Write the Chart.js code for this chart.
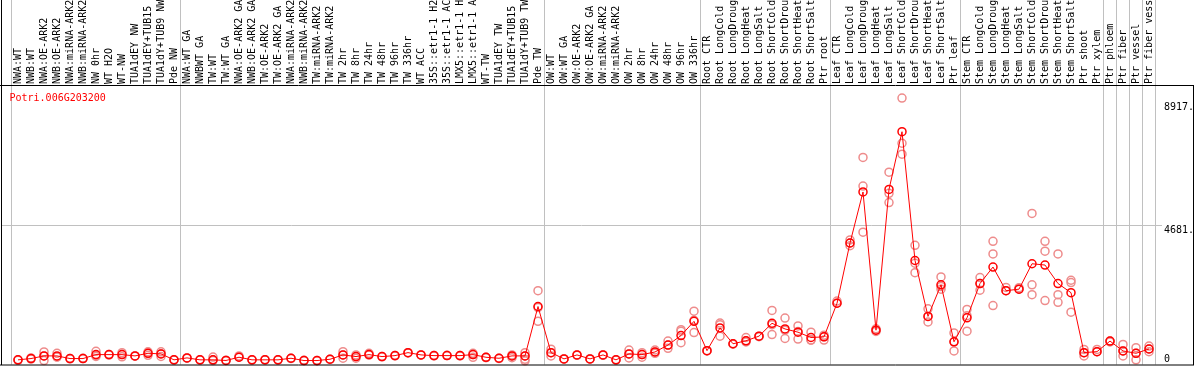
<!DOCTYPE html>
<html>
<head>
<meta charset="utf-8">
<title>Potri.006G203200</title>
<script src="https://cdn.jsdelivr.net/npm/chart.js@4.4.0/dist/chart.umd.min.js"></script>
<style>
    html, body { margin: 0; padding: 0; background: #fff; }
    #chart-expresion { display: block; }
</style>
</head>
<body>
<canvas id="chart-expresion" width="1194" height="370"></canvas>
<script>
const geneName = 'Potri.006G203200';

const labels = [
    'NWA:WT', 'NWB:WT', 'NWA:OE-ARK2', 'NWB:OE-ARK2', 'NWA:miRNA-ARK2', 'NWB:miRNA-ARK2',
    'NW 0hr', 'WT H2O', 'WT-NW', 'TUA1dEY NW', 'TUA1dEY+TUB15 NW', 'TUA1dY+TUB9 NW', 'Pde NW',
    'NWA:WT GA', 'NWBWT GA', 'TW:WT', 'TW:WT GA', 'NWA:OE-ARK2 GA', 'NWB:OE-ARK2 GA',
    'TW:OE-ARK2', 'TW:OE-ARK2 GA', 'NWA:miRNA-ARK2 GA', 'NWB:miRNA-ARK2 GA', 'TW:miRNA-ARK2',
    'TW:miRNA-ARK2 GA', 'TW 2hr', 'TW 8hr', 'TW 24hr', 'TW 48hr', 'TW 96hr', 'TW 336hr', 'WT ACC',
    '35S::etr1-1 H2O', '35S::etr1-1 ACC', 'LMX5::etr1-1 H2O', 'LMX5::etr1-1 ACC', 'WT-TW',
    'TUA1dEY TW', 'TUA1dEY+TUB15 TW', 'TUA1dY+TUB9 TW', 'Pde TW',
    'OW:WT', 'OW:WT GA', 'OW:OE-ARK2', 'OW:OE-ARK2 GA', 'OW:miRNA-ARK2', 'OW:miRNA-ARK2 GA',
    'OW 2hr', 'OW 8hr', 'OW 24hr', 'OW 48hr', 'OW 96hr', 'OW 336hr',
    'Root CTR', 'Root LongCold', 'Root LongDrought', 'Root LongHeat', 'Root LongSalt',
    'Root ShortCold', 'Root ShortDrought', 'Root ShortHeat', 'Root ShortSalt', 'Ptr root',
    'Leaf CTR', 'Leaf LongCold', 'Leaf LongDrought', 'Leaf LongHeat', 'Leaf LongSalt',
    'Leaf ShortCold', 'Leaf ShortDrought', 'Leaf ShortHeat', 'Leaf ShortSalt', 'Ptr leaf',
    'Stem CTR', 'Stem LongCold', 'Stem LongDrought', 'Stem LongHeat', 'Stem LongSalt',
    'Stem ShortCold', 'Stem ShortDrought', 'Stem ShortHeat', 'Stem ShortSalt', 'Ptr shoot',
    'Ptr xylem', 'Ptr phloem', 'Ptr fiber', 'Ptr vessel', 'Ptr fiber vessel'
];

// media de las replicas
const dataMedia = [
    85, 129, 220, 220, 129, 129, 264, 264, 264, 220, 310, 288, 85,
    152, 85, 85, 64, 174, 85, 85, 85, 139, 61, 61, 105, 254, 197, 264, 197, 230, 332, 254,
    230, 230, 230, 264, 173, 139, 220, 220, 1915,
    332, 118, 254, 118, 254, 85, 288, 264, 355, 593, 919, 1406,
    400, 1179, 637, 739, 898, 1339, 1145, 1034, 851, 874,
    2027, 4094, 5846, 1101, 5934, 7913, 3494, 1576, 2660, 705,
    1528, 2704, 3270, 2457, 2511, 3382, 3338, 2704, 2389, 332,
    366, 729, 390, 310, 457
];

// replicas individuales
const dataReplicas = [
    [85, 70], [150, 110], [356, 61, 220], [310, 180, 190], [129, 120], [129, 140],
    [380, 200, 230], [264, 250], [330, 190, 264], [220, 210], [360, 240, 310], [360, 200, 290], [85, 80],
    [152, 140], [85, 80], [180, 61, 85], [64, 70], [220, 174], [85, 80], [85, 90], [85, 80],
    [139, 130], [61, 70], [61, 55], [105, 100], [366, 139, 254], [254, 139, 197], [310, 264, 250],
    [197, 190], [230, 220], [332, 320], [254, 250], [230, 220], [230, 240], [230, 220],
    [310, 170, 264], [173, 160], [139, 130], [254, 160, 220], [332, 105, 50, 220], [2457, 1406, 1880],
    [450, 220, 332], [118, 110], [254, 240], [118, 110], [254, 240], [85, 80], [423, 152, 288],
    [330, 174, 264], [423, 310, 355], [728, 593, 480], [1120, 1067, 671], [1755, 1020, 1440],
    [400, 390], [1349, 898, 1290], [637, 620], [851, 739, 700], [898, 880], [1779, 952, 1290],
    [1518, 817, 1100], [1247, 796, 1060], [1034, 762, 762], [932, 762, 874],
    [2100, 2027], [4200, 4000, 4094], [7032, 6049, 4467], [1150, 1060, 1101], [6524, 5483, 5800],
    [9066, 7517, 7144], [4016, 3077, 3400], [1834, 1383, 1576], [2931, 2511, 2600], [1010, 390, 705],
    [1813, 1067, 1600], [2908, 2477, 2704], [4152, 3721, 1949], [2570, 2457], [2560, 2511],
    [5111, 2660, 2321], [4152, 3813, 2118], [3721, 2321, 2060], [2816, 2738, 1722], [444, 220, 332],
    [444, 366], [729, 700], [613, 220, 390], [502, 85, 310], [559, 366, 457]
];

const yTicks = [0, 4681, 8917];
const yTickLabels = ['0', '4681.', '8917.'];
const groupStarts = [0, 13, 41, 53, 63, 73, 84, 85, 86, 87, 88];

const puntosReplicas = [];
dataReplicas.forEach((reps, i) => {
    reps.forEach(v => puntosReplicas.push({ x: labels[i], y: v }));
});

const fuente = 'DejaVu Sans Mono';

const decoracion = {
    id: 'decoracion',
    beforeDatasetsDraw(chart) {
        const ctx = chart.ctx;
        const x = chart.scales.x;
        const y = chart.scales.y;
        const paso = x.getPixelForValue(1) - x.getPixelForValue(0);
        const x0 = x.getPixelForValue(0);
        ctx.save();
        ctx.strokeStyle = '#c0c0c0';
        ctx.lineWidth = 1;
        ctx.beginPath();
        groupStarts.forEach(i => {
            const px = Math.floor(x0 + (i - 0.5) * paso) + 0.5;
            ctx.moveTo(px, 0);
            ctx.lineTo(px, chart.chartArea.bottom);
        });
        const py = Math.floor(y.getPixelForValue(4681)) + 0.5;
        ctx.moveTo(1, py);
        ctx.lineTo(1162, py);
        ctx.stroke();
        ctx.restore();
    },
    afterDraw(chart) {
        const ctx = chart.ctx;
        const y = chart.scales.y;
        const area = chart.chartArea;
        ctx.save();
        ctx.strokeStyle = '#000';
        ctx.lineWidth = 1;
        ctx.beginPath();
        ctx.moveTo(1.5, 0);
        ctx.lineTo(1.5, area.bottom + 0.5);
        ctx.moveTo(0, area.top - 0.5);
        ctx.lineTo(chart.width, area.top - 0.5);
        ctx.moveTo(chart.width - 0.5, area.top - 0.5);
        ctx.lineTo(chart.width - 0.5, area.bottom + 0.5);
        ctx.moveTo(0, area.bottom + 0.5);
        ctx.lineTo(chart.width, area.bottom + 0.5);
        ctx.stroke();

        ctx.font = '10px "' + fuente + '"';
        ctx.fillStyle = '#ff0000';
        ctx.textAlign = 'left';
        ctx.textBaseline = 'alphabetic';
        ctx.fillText(geneName, 9.5, area.top + 15);

        ctx.fillStyle = '#000';
        yTicks.forEach((v, i) => {
            const p = y.getPixelForValue(v);
            const base = v === 0 ? p - 0.5 : p + 7.5;
            ctx.fillText(yTickLabels[i], 1164, base);
        });
        ctx.restore();
    }
};

const ctxExpresion = document.getElementById('chart-expresion').getContext('2d');

const chartExpresion = new Chart(ctxExpresion, {
    type: 'line',
    data: {
        labels: labels,
        datasets: [{
            label: 'media',
            data: dataMedia,
            borderColor: '#ff0000',
            borderWidth: 1,
            pointRadius: 4,
            pointBorderWidth: 1.5,
            pointBorderColor: '#ff0000',
            pointBackgroundColor: 'rgba(255,255,255,0)',
            tension: 0,
            clip: false
        }, {
            label: 'replicas',
            data: puntosReplicas,
            showLine: false,
            pointRadius: 4,
            pointBorderWidth: 1.5,
            pointBorderColor: 'rgb(238,140,140)',
            pointBackgroundColor: 'rgba(255,255,255,0)',
            clip: false
        }]
    },
    options: {
        responsive: false,
        animation: false,
        layout: {
            padding: { left: 11.5, right: 0, top: 0, bottom: 1 }
        },
        plugins: {
            legend: { display: false },
            tooltip: { enabled: false }
        },
        scales: {
            x: {
                type: 'category',
                position: 'top',
                offset: true,
                grid: { display: false, drawTicks: false },
                border: { display: false },
                ticks: {
                    autoSkip: false,
                    minRotation: 90,
                    maxRotation: 90,
                    padding: 2,
                    labelOffset: 12,
                    color: '#000',
                    font: { family: fuente, size: 10 }
                },
                afterFit: function (scale) {
                    scale.height = 86;
                }
            },
            y: {
                position: 'right',
                min: -75,
                max: 9482,
                grid: { display: false },
                border: { display: false },
                ticks: { display: false },
                afterBuildTicks: function (scale) {
                    scale.ticks = yTicks.map(v => ({ value: v }));
                },
                afterFit: function (scale) {
                    scale.width = 38.5;
                }
            }
        }
    },
    plugins: [decoracion]
});
</script>
</body>
</html>
